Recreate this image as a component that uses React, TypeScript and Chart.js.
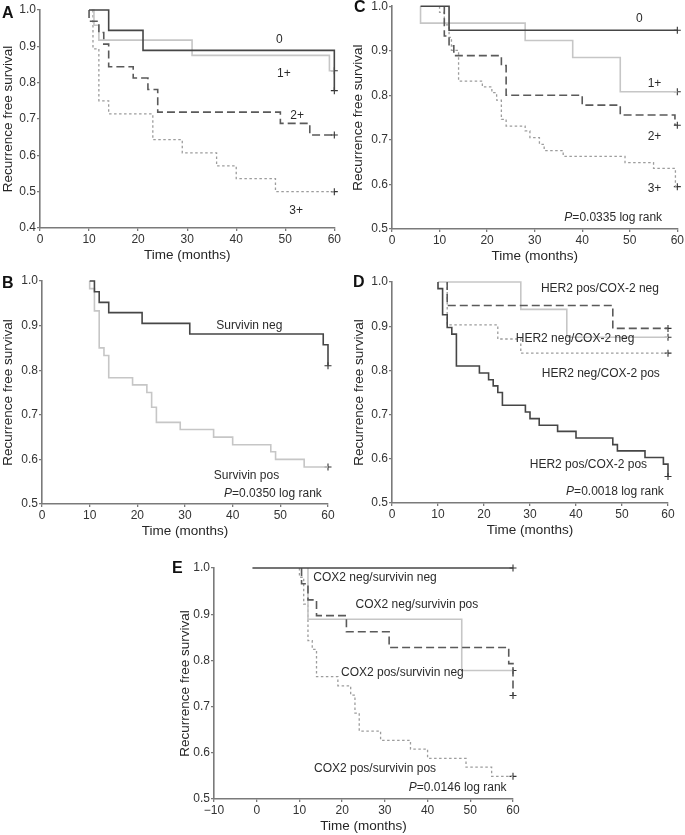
import React, { useEffect, useRef } from "react";
import { Chart, registerables } from "chart.js";

Chart.register(...registerables);

const FONT = "'Liberation Sans', Arial, Helvetica, sans-serif";

// ---------- tick labels ----------
const xTicks = [0, 10, 20, 30, 40, 50, 60];
const xTicksE = [-10, 0, 10, 20, 30, 40, 50, 60];
const yTicksA = [0.4, 0.5, 0.6, 0.7, 0.8, 0.9, 1.0];
const yTicks = [0.5, 0.6, 0.7, 0.8, 0.9, 1.0];

// ---------- Panel A : [months, survival] ----------
const aGrade0 = [[10, 1], [14, 0.944], [21, 0.889], [60, 0.778]];
const aGrade1 = [[10.5, 1], [11, 0.958], [12, 0.917], [31, 0.875], [59, 0.833], [60, 0.833]];
const aGrade2 = [[10, 1], [10, 0.969], [12, 0.938], [13, 0.906], [14, 0.844], [19, 0.813], [22, 0.781], [24, 0.719], [49, 0.688], [55, 0.656], [60, 0.656]];
const aGrade3 = [[10.8, 1], [10.8, 0.893], [12, 0.75], [14, 0.714], [23, 0.643], [29, 0.607], [36, 0.571], [40, 0.536], [48, 0.5], [60, 0.5]];

// ---------- Panel B ----------
const bSurvNeg = [[10, 1], [11, 0.976], [12, 0.952], [14, 0.929], [21, 0.905], [31, 0.881], [59, 0.857], [60, 0.81]];
const bSurvPos = [[10, 1], [10, 0.983], [11, 0.933], [12, 0.85], [13, 0.833], [14, 0.783], [19, 0.767], [22, 0.75], [23, 0.717], [24, 0.683], [29, 0.667], [36, 0.65], [40, 0.633], [48, 0.617], [49, 0.6], [55, 0.583], [60, 0.583]];

// ---------- Panel C ----------
const cGrade0 = [[6, 1], [12, 0.946], [60, 0.946]];
const cGrade1 = [[6, 1], [6, 0.962], [28, 0.923], [38, 0.885], [48, 0.808], [60, 0.808]];
const cGrade2 = [[11, 1], [11, 0.933], [12, 0.911], [13, 0.889], [23, 0.867], [24, 0.8], [40, 0.778], [48, 0.756], [59.5, 0.733], [60, 0.733]];
const cGrade3 = [[10, 1], [10, 0.986], [11, 0.958], [12, 0.93], [12.5, 0.901], [14, 0.832], [19, 0.819], [21, 0.806], [22, 0.789], [23, 0.746], [24, 0.731], [28, 0.72], [29, 0.705], [31, 0.69], [32, 0.676], [36, 0.663], [49, 0.649], [55, 0.636], [59.6, 0.595], [60, 0.595]];

// ---------- Panel D ----------
const dPosPos = [[10, 1], [10, 0.985], [11, 0.926], [12, 0.897], [13, 0.882], [14, 0.81], [19, 0.794], [21, 0.779], [22, 0.765], [23, 0.75], [24, 0.721], [29, 0.706], [30, 0.691], [32, 0.676], [36, 0.662], [40, 0.647], [48, 0.632], [49, 0.618], [55, 0.603], [59, 0.588], [60, 0.56]];
const dPosNeg = [[10, 1], [28, 0.938], [38, 0.875], [60, 0.875]];
const dNegNeg = [[12, 1], [12, 0.947], [48, 0.895], [60, 0.895]];
const dNegPos = [[12, 1], [12, 0.903], [23, 0.871], [28, 0.839], [60, 0.839]];

// ---------- Panel E ----------
const eNegNeg = [[-1, 1], [60, 1]];
const eNegPos = [[10.5, 1], [10.5, 0.966], [12, 0.931], [14, 0.897], [21, 0.862], [31, 0.828], [59, 0.793], [60, 0.724]];
const ePosNeg = [[12, 1], [12, 0.889], [48, 0.778], [60, 0.778]];
const ePosPos = [[10, 1], [10, 0.98], [11, 0.922], [12, 0.843], [13, 0.824], [14, 0.765], [19, 0.745], [22, 0.725], [23, 0.686], [24, 0.647], [29, 0.627], [36, 0.608], [40, 0.588], [49, 0.569], [55, 0.549], [60, 0.549]];

// ---------- text labels inside plots ----------
const notesA = [
  { text: "0", x: 48.8, y: 0.917 },
  { text: "1+", x: 49.7, y: 0.826 },
  { text: "2+", x: 52.4, y: 0.708 },
  { text: "3+", x: 52.2, y: 0.449 },
];
const notesB = [
  { text: "Survivin neg", x: 43.5, y: 0.9 },
  { text: "Survivin pos", x: 42.9, y: 0.564 },
  { italic: "P", text: "=0.0350 log rank", x: 58.7, y: 0.524, align: "right" },
];
const notesC = [
  { text: "0", x: 52, y: 0.972 },
  { text: "1+", x: 55.2, y: 0.827 },
  { text: "2+", x: 55.2, y: 0.707 },
  { text: "3+", x: 55.2, y: 0.591 },
  { italic: "P", text: "=0.0335 log rank", x: 56.8, y: 0.525, align: "right" },
];
const notesD = [
  { text: "HER2 pos/COX-2 neg", x: 45.2, y: 0.986 },
  { text: "HER2 neg/COX-2 neg", x: 39.8, y: 0.871 },
  { text: "HER2 neg/COX-2 pos", x: 45.4, y: 0.792 },
  { text: "HER2 pos/COX-2 pos", x: 42.7, y: 0.586 },
  { italic: "P", text: "=0.0018 log rank", x: 59.1, y: 0.526, align: "right" },
];
const notesE = [
  { text: "COX2 neg/survivin neg", x: 27.7, y: 0.978 },
  { text: "COX2 neg/survivin pos", x: 37.5, y: 0.92 },
  { text: "COX2 pos/survivin neg", x: 34.1, y: 0.773 },
  { text: "COX2 pos/survivin pos", x: 27.7, y: 0.566 },
  { italic: "P", text: "=0.0146 log rank", x: 58.5, y: 0.524, align: "right" },
];

const STYLES: any = {
  dark: { borderColor: "#464646", borderWidth: 1.6, borderDash: [] },
  light: { borderColor: "#c6c6c6", borderWidth: 1.6, borderDash: [] },
  dashed: { borderColor: "#5a5a5a", borderWidth: 1.6, borderDash: [8, 4] },
  dotted: { borderColor: "#9c9c9c", borderWidth: 1.3, borderDash: [2.5, 2.5] },
};

const textPlugin = {
  id: "kmText",
  afterDatasetsDraw(chart: any, _args: any, opts: any) {
    const notes = (opts && opts.notes) || [];
    const { ctx, scales } = chart;
    const xs = scales.x;
    const ys = scales.y;
    ctx.save();
    ctx.fillStyle = "#2b2b2b";
    ctx.textBaseline = "middle";
    for (const n of notes) {
      const px = xs.getPixelForValue(n.x);
      const py = ys.getPixelForValue(n.y);
      ctx.font = `12px ${FONT}`;
      const w = ctx.measureText(n.text).width;
      let iw = 0;
      if (n.italic) {
        ctx.font = `italic 12px ${FONT}`;
        iw = ctx.measureText(n.italic).width;
      }
      const total = w + iw;
      let start = px - total / 2;
      if (n.align === "right") start = px - total;
      if (n.align === "left") start = px;
      ctx.textAlign = "left";
      if (n.italic) {
        ctx.font = `italic 12px ${FONT}`;
        ctx.fillText(n.italic, start, py);
      }
      ctx.font = `12px ${FONT}`;
      ctx.fillText(n.text, start + iw, py);
    }
    ctx.restore();
  },
};

type Curve = { pts: number[][]; style: string };
type Spec = {
  left: number; top: number; w: number; h: number;
  yW: number; xH: number; pad: { top: number; right: number };
  yTitlePad: number; xTitlePad: number;
  xMin: number; xMax: number; yMin: number; yMax: number;
  xT: number[]; yT: number[];
  curves: Curve[]; notes: any[];
};

const AXIS_COLOR = "#7a7a7a";

function Panel({ spec }: { spec: Spec }) {
  const ref = useRef<HTMLCanvasElement | null>(null);
  useEffect(() => {
    if (!ref.current) return;
    const datasets: any[] = spec.curves.map((c) => ({
      type: "line",
      data: c.pts.map(([x, y]) => ({ x, y })),
      stepped: true,
      pointRadius: 0,
      fill: false,
      clip: false,
      ...STYLES[c.style],
    }));
    datasets.push({
      type: "scatter",
      data: spec.curves.map((c) => {
        const p = c.pts[c.pts.length - 1];
        return { x: p[0], y: p[1] };
      }),
      pointStyle: "cross",
      pointRadius: 3.5,
      borderColor: "#333",
      borderWidth: 1.1,
      clip: false,
    });
    const tickFont = { family: FONT, size: 12 };
    const titleFont = { family: FONT, size: 13.5 };
    const chart = new Chart(ref.current, {
      type: "line",
      data: { datasets },
      plugins: [textPlugin],
      options: {
        animation: false,
        responsive: false,
        devicePixelRatio: 1,
        layout: { padding: { top: spec.pad.top, right: spec.pad.right, bottom: 0, left: 0 } },
        plugins: {
          legend: { display: false },
          tooltip: { enabled: false },
          kmText: { notes: spec.notes },
        } as any,
        scales: {
          x: {
            type: "linear",
            min: spec.xMin,
            max: spec.xMax,
            afterBuildTicks: (s: any) => { s.ticks = spec.xT.map((v) => ({ value: v })); },
            afterFit: (s: any) => { s.height = spec.xH; },
            grid: { drawOnChartArea: false, drawTicks: true, tickLength: 3, color: AXIS_COLOR, lineWidth: 1.3 },
            border: { display: true, color: AXIS_COLOR, width: 1.6 },
            ticks: {
              color: "#333", font: tickFont, padding: 1, maxRotation: 0, autoSkip: false,
              callback: (v: any) => (v < 0 ? "\u2212" + Math.abs(v) : String(v)),
            },
            title: { display: true, text: "Time (months)", color: "#262626", font: titleFont, padding: { top: 0, bottom: spec.xTitlePad } },
          },
          y: {
            type: "linear",
            min: spec.yMin,
            max: spec.yMax,
            afterBuildTicks: (s: any) => { s.ticks = spec.yT.map((v) => ({ value: v })); },
            afterFit: (s: any) => { s.width = spec.yW; },
            grid: { drawOnChartArea: false, drawTicks: true, tickLength: 3, color: AXIS_COLOR, lineWidth: 1.3 },
            border: { display: true, color: AXIS_COLOR, width: 1.6 },
            ticks: {
              color: "#333", font: tickFont, padding: 1, autoSkip: false,
              callback: (v: any) => Number(v).toFixed(1),
            },
            title: { display: true, text: "Recurrence free survival", color: "#262626", font: titleFont, padding: { top: spec.yTitlePad, bottom: 0 } },
          },
        },
      } as any,
    } as any);
    return () => chart.destroy();
  }, []);
  return (
    <canvas
      ref={ref}
      width={spec.w}
      height={spec.h}
      style={{ position: "absolute", left: spec.left, top: spec.top, width: spec.w, height: spec.h }}
    />
  );
}

const specs: Spec[] = [
  {
    left: 0, top: 0, w: 342, h: 268, yW: 40, xH: 40, pad: { top: 10, right: 7 },
    yTitlePad: 0, xTitlePad: 5, xMin: 0, xMax: 60, yMin: 0.4, yMax: 1.0, xT: xTicks, yT: yTicksA,
    curves: [
      { pts: aGrade0, style: "dark" },
      { pts: aGrade2, style: "dashed" },
      { pts: aGrade1, style: "light" },
      { pts: aGrade3, style: "dotted" },
    ],
    notes: notesA,
  },
  {
    left: 342, top: -2, w: 343, h: 271, yW: 50, xH: 40, pad: { top: 8, right: 7 },
    yTitlePad: 8, xTitlePad: 5, xMin: 0, xMax: 60, yMin: 0.5, yMax: 1.0, xT: xTicks, yT: yTicks,
    curves: [
      { pts: cGrade0, style: "dark" },
      { pts: cGrade2, style: "dashed" },
      { pts: cGrade1, style: "light" },
      { pts: cGrade3, style: "dotted" },
    ],
    notes: notesC,
  },
  {
    left: 0, top: 272, w: 342, h: 272, yW: 42, xH: 40, pad: { top: 9, right: 14 },
    yTitlePad: 0, xTitlePad: 5, xMin: 0, xMax: 60, yMin: 0.5, yMax: 1.0, xT: xTicks, yT: yTicks,
    curves: [
      { pts: bSurvNeg, style: "dark" },
      { pts: bSurvPos, style: "light" },
    ],
    notes: notesB,
  },
  {
    left: 342, top: 272, w: 343, h: 271, yW: 50, xH: 40, pad: { top: 10, right: 17 },
    yTitlePad: 9, xTitlePad: 5, xMin: 0, xMax: 60, yMin: 0.5, yMax: 1.0, xT: xTicks, yT: yTicks,
    curves: [
      { pts: dPosPos, style: "dark" },
      { pts: dNegNeg, style: "dashed" },
      { pts: dPosNeg, style: "light" },
      { pts: dNegPos, style: "dotted" },
    ],
    notes: notesD,
  },
  {
    left: 160, top: 555, w: 370, h: 280, yW: 54, xH: 36, pad: { top: 13, right: 17 },
    yTitlePad: 17, xTitlePad: 1, xMin: -10, xMax: 60, yMin: 0.5, yMax: 1.0, xT: xTicksE, yT: yTicks,
    curves: [
      { pts: eNegNeg, style: "dark" },
      { pts: eNegPos, style: "dashed" },
      { pts: ePosNeg, style: "light" },
      { pts: ePosPos, style: "dotted" },
    ],
    notes: notesE,
  },
];

const letters = [
  { t: "A", x: 8, y: 13 },
  { t: "C", x: 360, y: 7 },
  { t: "B", x: 8, y: 283 },
  { t: "D", x: 359, y: 282 },
  { t: "E", x: 178, y: 568 },
];

export default function App() {
  return (
    <div style={{ position: "absolute", left: 0, top: 0, width: 685, height: 835, overflow: "hidden", background: "#fff" }}>
      {specs.map((s, i) => (
        <Panel key={i} spec={s} />
      ))}
      {letters.map((l) => (
        <div
          key={l.t}
          style={{
            position: "absolute",
            left: l.x - 6,
            top: l.y - 8,
            fontFamily: FONT,
            fontWeight: "bold",
            fontSize: 16,
            lineHeight: "16px",
            color: "#111",
          }}
        >
          {l.t}
        </div>
      ))}
    </div>
  );
}
